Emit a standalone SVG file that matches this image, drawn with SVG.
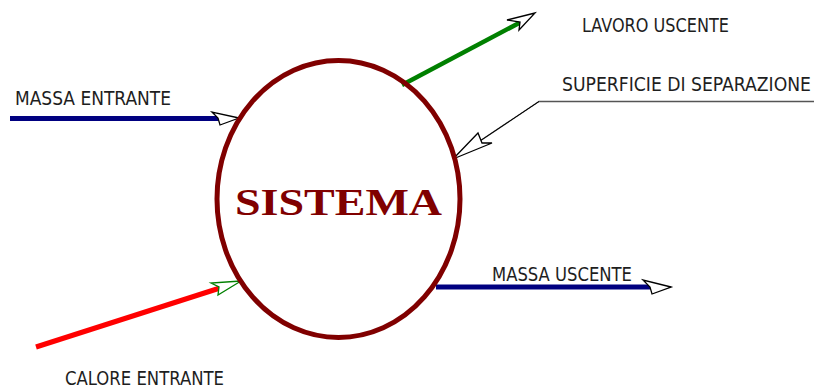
<svg xmlns="http://www.w3.org/2000/svg" width="814" height="389" viewBox="0 0 814 389">
<style>
.lbl{font-family:"Liberation Sans Narrow","DejaVu Sans Condensed","Liberation Sans",sans-serif;font-size:19.5px;fill:#1e1e1e;}
.ah{fill:#ffffff;stroke-width:1.3;stroke-linejoin:miter;}
</style>
<rect width="814" height="389" fill="#ffffff"/>
<g id="connectors">
  <g id="lavoro-uscente-arrow">
    <line x1="402" y1="85" x2="521" y2="22" stroke="#008000" stroke-width="4.5"/>
    <polygon class="ah" points="535,13 507,20 520,22 519,30" stroke="#000000"/>
  </g>
  <g id="massa-entrante-arrow">
    <line x1="10" y1="118.5" x2="219" y2="118.5" stroke="#000080" stroke-width="5"/>
    <polygon class="ah" points="239,118 212,112 218,118 220,125" stroke="#000000"/>
  </g>
  <g id="calore-entrante-arrow">
    <line x1="36" y1="347" x2="220" y2="288" stroke="#ff0000" stroke-width="5"/>
    <polygon class="ah" points="241,281 211,283 219,287 218,295" stroke="#008000"/>
  </g>
  <g id="massa-uscente-arrow">
    <line x1="436" y1="287" x2="650" y2="287" stroke="#000080" stroke-width="5"/>
    <line x1="650" y1="287" x2="671" y2="287" stroke="#000080" stroke-width="1.2"/>
    <polygon class="ah" points="671,287 643,280 650,287 652,294" stroke="#000000"/>
  </g>
  <g id="superficie-leader">
    <polyline points="814,101.5 539,101.5 453,159" fill="none" stroke="#555555" stroke-width="1.3"/>
    <line x1="539" y1="101.5" x2="453" y2="159" stroke="#000000" stroke-width="1"/>
    <polygon class="ah" points="453,159 478,133 482,143 492,143" stroke="#000000"/>
  </g>
</g>
<g id="sistema">
  <ellipse cx="338.5" cy="199" rx="121.5" ry="138.5" fill="none" stroke="#800000" stroke-width="5"/>
  <text x="235" y="215" font-family="Liberation Serif,Times New Roman,serif" font-weight="bold" font-size="37" fill="#800000" textLength="207" lengthAdjust="spacingAndGlyphs">SISTEMA</text>
</g>
<g id="labels">
  <text id="lavoro-uscente" class="lbl" x="582" y="32" textLength="147" lengthAdjust="spacingAndGlyphs">LAVORO USCENTE</text>
  <text id="superficie" class="lbl" x="562" y="91" textLength="249" lengthAdjust="spacingAndGlyphs">SUPERFICIE DI SEPARAZIONE</text>
  <text id="massa-entrante" class="lbl" x="15" y="105" textLength="156" lengthAdjust="spacingAndGlyphs">MASSA ENTRANTE</text>
  <text id="massa-uscente" class="lbl" x="492" y="281" textLength="140" lengthAdjust="spacingAndGlyphs">MASSA USCENTE</text>
  <text id="calore-entrante" class="lbl" x="65" y="384.5" textLength="159" lengthAdjust="spacingAndGlyphs">CALORE ENTRANTE</text>
</g>
</svg>
